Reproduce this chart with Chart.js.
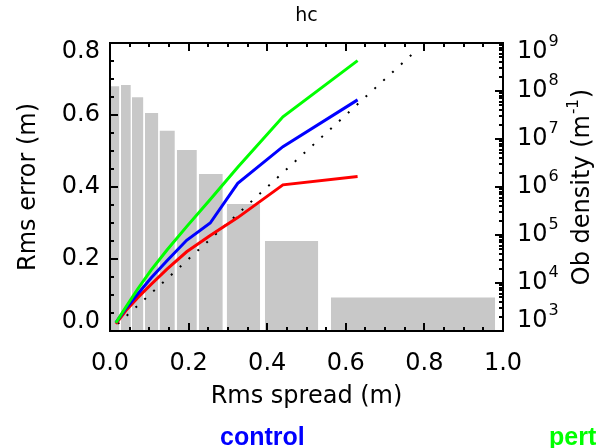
<!DOCTYPE html>
<html>
<head>
<meta charset="utf-8">
<script src="https://cdn.jsdelivr.net/npm/chart.js@4/dist/chart.umd.min.js"></script>
<style>
  body { margin: 0; background: #fff; overflow: hidden; }
  #wrap { position: relative; width: 597px; height: 448px; }
  .key { position: absolute; top: 424px; font: bold 25px "Liberation Sans", Arial, sans-serif; line-height: 25px; white-space: nowrap; }
</style>
</head>
<body>
<div id="wrap">
  <canvas id="myChart" width="597" height="448"></canvas>
  <span class="key" style="left:220px;color:#0000ff">control</span>
  <span class="key" style="left:549px;color:#00ff00">pert</span>
</div>
<script>
// data

// histogram of obs (right axis, log)
const binLeft  = [0, 0.028, 0.056, 0.089, 0.126, 0.170, 0.226, 0.297, 0.394, 0.562];
const binRight = [0.024, 0.053, 0.085, 0.123, 0.165, 0.221, 0.287, 0.382, 0.530, 0.980];
const obDensity = [1.26e8, 1.34e8, 7.4e7, 3.5e7, 1.49e7, 5.9e6, 1.86e6, 4.4e5, 7.5e4, 5.0e3];

// rms spread vs rms error
const spread  = [0.015, 0.04, 0.07, 0.105, 0.145, 0.195, 0.255, 0.325, 0.44, 0.63];
const pertErr = [0.023, 0.066, 0.116, 0.170, 0.225, 0.290, 0.365, 0.455, 0.595, 0.751];
const ctrlErr = [0.023, 0.062, 0.102, 0.148, 0.195, 0.252, 0.300, 0.410, 0.512, 0.642];
const redErr  = [0.020, 0.056, 0.092, 0.130, 0.172, 0.220, 0.265, 0.315, 0.406, 0.429];

// one-to-one line
const diagX = [0.02, 0.78];

const xTicks = [0, 0.2, 0.4, 0.6, 0.8, 1.0];
const yTicks = [0, 0.2, 0.4, 0.6, 0.8];
const decades = [3, 4, 5, 6, 7, 8, 9];

const FONT = "'DejaVu Sans', sans-serif";

function pts(xs, ys) {
  return xs.map(function(x, i) { return {x: x, y: ys[i]}; });
}

let datasets = [
  { data: pts(spread, pertErr), borderColor: '#00ff00', borderWidth: 3, yAxisID: 'y', order: 0 },
  { data: pts(spread, ctrlErr), borderColor: '#0000ff', borderWidth: 3, yAxisID: 'y', order: 0 },
  { data: pts(spread, redErr), borderColor: '#ff0000', borderWidth: 3, yAxisID: 'y', order: 0 },
  { data: pts(diagX, diagX), borderColor: '#000', borderWidth: 2, borderDash: [2, 10], yAxisID: 'y', order: 1 }
];

// bars: flat segment filled down to the bottom of the log axis
obDensity.forEach(function(d, i) {
  datasets.push({
    data: [{x: binLeft[i], y: d}, {x: binRight[i], y: d}],
    borderWidth: 0,
    backgroundColor: '#c8c8c8',
    fill: 'start',
    yAxisID: 'yR',
    order: 5
  });
});

// inward ticks, y labels (end labels pulled inside like IDL does) and 10^n labels
const idlAxes = {
  id: 'idlAxes',
  afterDraw(chart) {
    const c = chart.ctx;
    const a = chart.chartArea;
    const s = chart.scales;
    c.save();
    c.strokeStyle = '#000';
    c.lineWidth = 2;
    c.beginPath();
    for (let k = 0; k <= 20; k++) {
      const px = Math.round(s.x.getPixelForValue(k * 0.05));
      const len = k % 4 === 0 ? 8 : 4;
      c.moveTo(px, a.bottom); c.lineTo(px, a.bottom - len);
      c.moveTo(px, a.top); c.lineTo(px, a.top + len);
    }
    for (let k = 0; k <= 16; k++) {
      const py = Math.round(s.y.getPixelForValue(k * 0.05));
      const len = k % 4 === 0 ? 8 : 4;
      c.moveTo(a.left, py); c.lineTo(a.left + len, py);
    }
    for (let e = 3; e < 9; e++) {
      for (let m = 1; m < 10; m++) {
        const py = Math.round(s.yR.getPixelForValue(m * Math.pow(10, e)));
        const len = m === 1 ? 8 : 4;
        c.moveTo(a.right, py); c.lineTo(a.right - len, py);
      }
    }
    c.stroke();

    c.fillStyle = '#000';
    c.textBaseline = 'middle';

    // left tick labels
    c.textAlign = 'right';
    c.font = '24px ' + FONT;
    yTicks.forEach(function(v, i) {
      let py = s.y.getPixelForValue(v);
      if (i === 0) py -= 9;
      if (i === yTicks.length - 1) py += 9;
      c.fillText(v.toFixed(1), a.left - 10, py);
    });

    // right tick labels 10^n
    c.textAlign = 'left';
    decades.forEach(function(e, i) {
      let py = s.yR.getPixelForValue(Math.pow(10, e));
      if (i === 0) py -= 10;
      if (i === decades.length - 1) py += 9;
      const x0 = a.right + 14;
      c.font = '24px ' + FONT;
      c.fillText('10', x0, py);
      const w = c.measureText('10').width;
      c.font = '16px ' + FONT;
      c.fillText(String(e), x0 + w + 1, py - 10);
    });

    // right axis title, reading upwards
    c.translate(583, (a.top + a.bottom) / 2);
    c.rotate(-Math.PI / 2);
    c.font = '24px ' + FONT;
    const t1 = 'Ob density (m', t3 = ')';
    const w1 = c.measureText(t1).width, w3 = c.measureText(t3).width;
    c.font = '15px ' + FONT;
    const w2 = c.measureText('-1').width;
    let x = -(w1 + w2 + w3 + 2) / 2;
    c.font = '24px ' + FONT;
    c.fillText(t1, x, 0);
    c.font = '15px ' + FONT;
    c.fillText('-1', x + w1 + 1, -9);
    c.font = '24px ' + FONT;
    c.fillText(t3, x + w1 + w2 + 2, 0);
    c.restore();
  }
};

const ctx = document.getElementById('myChart').getContext('2d');

let chart = new Chart(ctx, {
  type: 'line',
  data: { datasets: datasets },
  plugins: [idlAxes],
  options: {
    responsive: false,
    animation: false,
    layout: { padding: 0 },
    elements: { point: { radius: 0 }, line: { tension: 0 } },
    plugins: { legend: { display: false }, tooltip: { enabled: false } },
    scales: {
      x: {
        type: 'linear', position: 'bottom', min: 0, max: 1,
        afterBuildTicks: function(s) { s.ticks = xTicks.map(function(v) { return {value: v}; }); },
        ticks: { color: '#000', font: { family: FONT, size: 24 }, padding: 10, maxRotation: 0,
          callback: function(v) { return v.toFixed(1); } },
        grid: { display: false },
        border: { color: '#000', width: 2, z: 1 },
        title: { display: true, text: 'Rms spread (m)', color: '#000', font: { family: FONT, size: 24 },
          padding: { top: 0, bottom: 37 } },
        afterFit: function(s) { s.height = 117; }
      },
      x2: {
        type: 'linear', position: 'top', min: 0, max: 1,
        ticks: { display: false },
        grid: { display: false },
        border: { color: '#000', width: 2, z: 1 },
        title: { display: true, text: 'hc', color: '#000', font: { family: FONT, size: 19 },
          padding: { top: 5, bottom: 0 } },
        afterFit: function(s) { s.height = 43; }
      },
      y: {
        type: 'linear', position: 'left', min: 0, max: 0.8,
        ticks: { display: false },
        grid: { display: false },
        border: { color: '#000', width: 2, z: 1 },
        title: { display: true, text: 'Rms error (m)', color: '#000', font: { family: FONT, size: 24 },
          padding: { top: 14, bottom: 0 } },
        afterFit: function(s) { s.width = 110; }
      },
      yR: {
        type: 'logarithmic', position: 'right', min: 1e3, max: 1e9,
        ticks: { display: false },
        grid: { display: false },
        border: { color: '#000', width: 2, z: 1 },
        title: { display: false },
        afterFit: function(s) { s.width = 94; }
      }
    }
  }
});
</script>
</body>
</html>
